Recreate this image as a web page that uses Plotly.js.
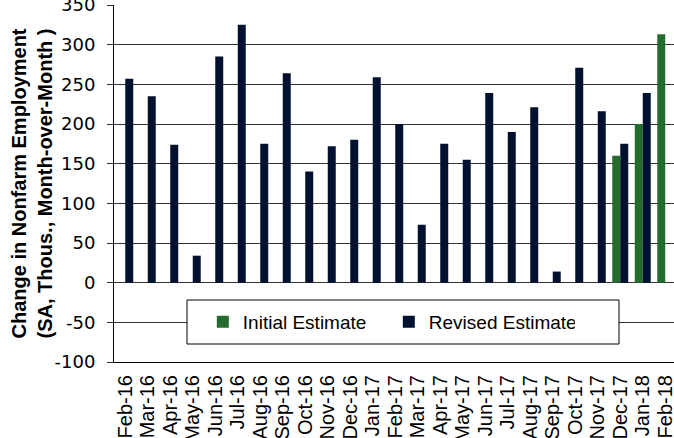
<!DOCTYPE html>
<html>
<head>
<meta charset="utf-8">
<script src="https://cdn.plot.ly/plotly-3.0.1.min.js"></script>
<style>html,body{margin:0;padding:0;background:#fff;}#chart{width:674px;height:438px;}</style>
</head>
<body>
<div id="chart"></div>
<script>
const months = ["Feb-16","Mar-16","Apr-16","May-16","Jun-16","Jul-16","Aug-16","Sep-16","Oct-16","Nov-16","Dec-16",
  "Jan-17","Feb-17","Mar-17","Apr-17","May-17","Jun-17","Jul-17","Aug-17","Sep-17","Oct-17","Nov-17","Dec-17",
  "Jan-18","Feb-18"];
const initialEstimate = [null,null,null,null,null,null,null,null,null,null,null,
  null,null,null,null,null,null,null,null,null,null,null,160,
  200,313];
const revisedEstimate = [257,235,174,34,285,325,175,264,140,172,180,
  259,200,73,175,155,239,190,221,14,271,216,175,
  239,null];
const yTicks = [-100,-50,0,50,100,150,200,250,300,350];
const yTickText = yTicks.map(v => String(v));
const yTitle = "Change in Nonfarm Employment<br>(SA, Thous., Month-over-Month )";

const font = "Liberation Sans, Arial, sans-serif";
const xRange = [-0.5, 24.389];

const traces = [
  {type:"bar", name:"Initial Estimate", x:months, y:initialEstimate, marker:{color:"#246b2e"}, hoverinfo:"x+y"},
  {type:"bar", name:"Revised Estimate", x:months, y:revisedEstimate, marker:{color:"#02112f"}, hoverinfo:"x+y"}
];

const layout = {
  width:674, height:438,
  margin:{l:114, r:0, t:5, b:76, pad:0},
  paper_bgcolor:"#fff", plot_bgcolor:"#fff",
  font:{family:font, color:"#000"},
  barmode:"group", bargap:0.29, bargroupgap:0,
  showlegend:true,
  legend:{orientation:"h", x:0.1586, xanchor:"left", y:0.112, yanchor:"middle",
    bgcolor:"rgba(0,0,0,0)", borderwidth:0, font:{size:19, family:font, color:"#000"},
    entrywidth:141, traceorder:"normal"},
  xaxis:{type:"category", categoryarray:months, categoryorder:"array", range:xRange,
    tickmode:"array", tickvals:months, ticktext:months,
    showgrid:false, zeroline:false, ticks:"", tickangle:-90,
    tickfont:{size:20, family:font, color:"#000"}, ticklabelstandoff:4, ticklabeloverflow:"allow",
    showline:true, linecolor:"#000", linewidth:1, fixedrange:true},
  xaxis2:{overlaying:"x", anchor:"free", position:100/450, type:"linear", range:xRange,
    tick0:-0.5, dtick:1, ticks:"outside", ticklen:6, tickcolor:"#000", tickwidth:1,
    showticklabels:false, showgrid:false, zeroline:false,
    showline:true, linecolor:"#000", linewidth:1, fixedrange:true},
  yaxis:{range:[-100,350], tickmode:"array", tickvals:yTicks, ticktext:yTickText,
    showgrid:true, gridcolor:"#333", gridwidth:1,
    zeroline:false, ticks:"outside", ticklen:6, tickcolor:"#333",
    showline:true, linecolor:"#000", linewidth:1, ticklabeloverflow:"allow",
    tickfont:{size:18, family:"DejaVu Sans, sans-serif", color:"#000"}, ticklabelstandoff:8,
    fixedrange:true},
  annotations:[{text:yTitle, xref:"paper", yref:"paper", x:(31-114)/560, y:0.5,
    xanchor:"center", yanchor:"middle", textangle:-90, showarrow:false,
    font:{size:20, family:font, color:"#000", weight:"bold"}}],
  shapes:[{type:"rect", xref:"paper", yref:"paper", x0:(187-114)/560, x1:(619-114)/560,
    y0:(362-344)/357, y1:(362-300)/357, fillcolor:"#fff", line:{color:"#000", width:1}, layer:"above"}]
};

Plotly.newPlot("chart", traces, layout, {displayModeBar:false, staticPlot:true});
</script>
</body>
</html>
